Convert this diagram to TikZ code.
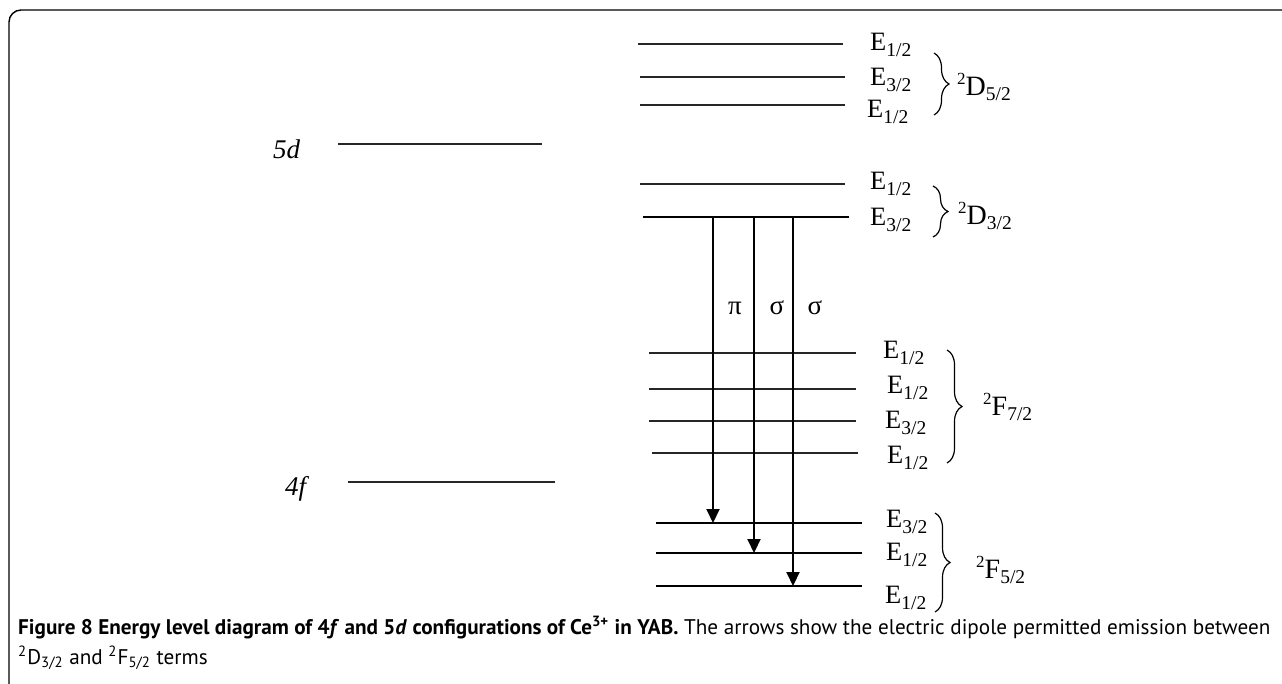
\documentclass[tikz,border=0pt]{standalone}
\usepackage{fontspec}
\usepackage{graphicx}
\setmainfont{Liberation Serif}
\newfontfamily\capfont{PT Sans}
\usetikzlibrary{arrows.meta,decorations.pathreplacing}
\newcommand{\lowidx}[1]{\raisebox{-0.2em}{\fontsize{19.5}{19.5}\selectfont #1}}
\newcommand{\eterm}[1]{E\lowidx{#1}}
\newcommand{\lsterm}[2]{\raisebox{0.4em}{\fontsize{17}{17}\selectfont 2}#1\lowidx{#2}}

\begin{document}
\begin{tikzpicture}[x=1pt, y=-1pt,
  lvl/.style={line width=1.2pt, draw=black!85},
  lvlb/.style={line width=2.4pt},
  emit/.style={line width=2.1pt, -{Triangle[length=14pt,width=13pt]}},
  elab/.style={font=\fontsize{26.5}{26.5}\selectfont, inner sep=0pt, anchor=west},
  tlab/.style={font=\fontsize{28}{28}\selectfont, inner sep=0pt, anchor=west},
  conf/.style={font=\fontsize{27}{27}\selectfont\itshape, inner sep=0pt, anchor=base west},
  pol/.style={font=\fontsize{27}{27}\selectfont, inner sep=0pt},
  grp/.style={decorate, decoration={brace, amplitude=15pt}, line width=1.2pt}]
\useasboundingbox (0,0) rectangle (1282,684);
% frame
\draw[line width=1.4pt, rounded corners=12pt] (9,690) -- (9,10) -- (1290,10);

% configurations
\draw[lvl] (338,144) -- (542,144);
\node[conf] (cd) at (273,159) {5d};
\draw[lvl] (348,482) -- (555,482);
\node[conf] (cf) at (285,495) {4f};

% 2D5/2
\draw[lvl] (638,44) -- (843,44);
\draw[lvl] (640,77) -- (845,77);
\draw[lvl] (640,105) -- (845,105);
\node[elab] (d5a) at (870,45) {\eterm{1/2}};
\node[elab] (d5b) at (870,80) {\eterm{3/2}};
\node[elab] (d5c) at (867,112) {\eterm{1/2}};
\draw[grp] (934,53) -- (934,115);
\node[tlab] (d5) at (957,87) {\lsterm{D}{5/2}};

% 2D3/2
\draw[lvl] (640,184) -- (845,184);
\draw[lvlb] (643,217) -- (849,217);
\node[elab] (d3a) at (870,184) {\eterm{1/2}};
\node[elab] (d3b) at (870,220) {\eterm{3/2}};
\draw[grp] (933,186) -- (933,237);
\node[tlab] (d3) at (958,216) {\lsterm{D}{3/2}};

% 2F7/2
\draw[lvl] (649,353) -- (856,353);
\draw[lvl] (649,389) -- (856,389);
\draw[lvl] (649,421) -- (856,421);
\draw[lvl] (652,453) -- (858,453);
\node[elab] (f7a) at (883,353) {\eterm{1/2}};
\node[elab] (f7b) at (887,388) {\eterm{1/2}};
\node[elab] (f7c) at (885,423) {\eterm{3/2}};
\node[elab] (f7d) at (887,458) {\eterm{1/2}};
\draw[grp] (947,350) -- (947,463);
\node[tlab] (f7) at (983,407) {\lsterm{F}{7/2}};

% 2F5/2
\draw[lvlb] (656,523) -- (862,523);
\draw[lvlb] (656,553) -- (862,553);
\draw[lvlb] (656,586) -- (862,586);
\node[elab] (f5a) at (886,522) {\eterm{3/2}};
\node[elab] (f5b) at (886,555) {\eterm{1/2}};
\node[elab] (f5c) at (885,598) {\eterm{1/2}};
\draw[grp] (935,513) -- (935,612);
\node[tlab] (f5) at (976,570) {\lsterm{F}{5/2}};

% emission
\coordinate (s1) at (713,217);
\coordinate (s2) at (754,217);
\coordinate (s3) at (793,217);
\coordinate (t1) at (713,523);
\coordinate (t2) at (754,553);
\coordinate (t3) at (793,586);
\draw[emit] (s1) -- (t1);
\draw[emit] (s2) -- (t2);
\draw[emit] (s3) -- (t3);
\node[pol] (pol1) at (735,308) {π};
\node[pol] (pol2) at (777,308) {σ};
\node[pol] (pol3) at (815,308) {σ};

% caption
\node[anchor=base west, inner sep=0pt] (cap) at (18,634)
  {\resizebox{1252pt}{!}{\capfont\fontsize{10}{14.3}\selectfont
   \begin{tabular}[t]{@{}l@{}}
   \textbf{Figure 8 Energy level diagram of 4\textit{f} and 5\textit{d} configurations of Ce\textsuperscript{3+} in YAB.} The arrows show the electric dipole permitted emission between\\
   \textsuperscript{2}D\textsubscript{3/2} and \textsuperscript{2}F\textsubscript{5/2} terms
   \end{tabular}}};
\end{tikzpicture}
\end{document}
